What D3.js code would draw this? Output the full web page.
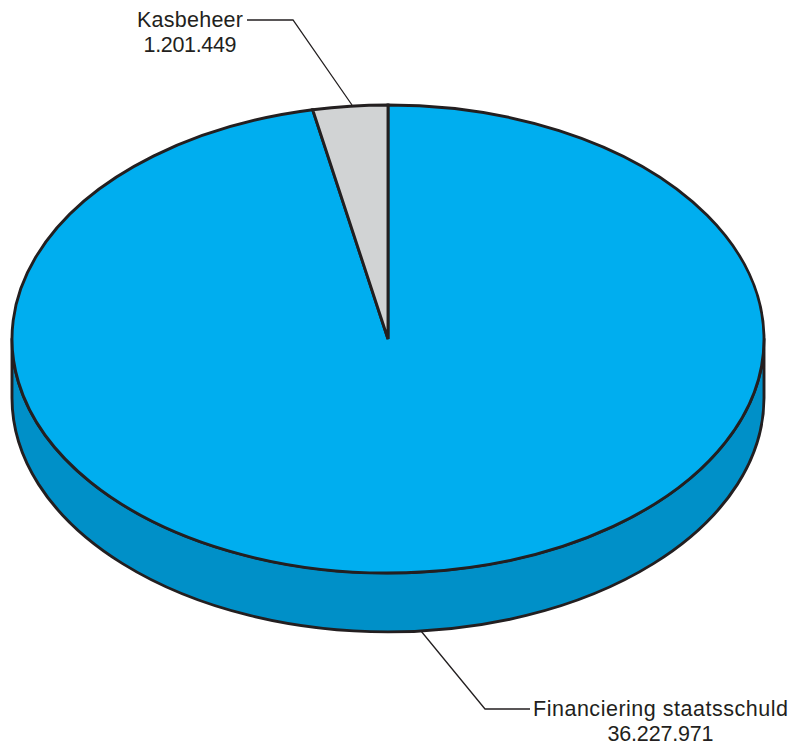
<!DOCTYPE html>
<html>
<head>
<meta charset="utf-8">
<script src="https://cdn.jsdelivr.net/npm/d3@7"></script>
<style>
    html, body { margin: 0; padding: 0; background: #fff; }
    svg { display: block; }
    text { font-family: "Liberation Sans", Arial, sans-serif; font-size: 21.5px; fill: #231f20; }
</style>
</head>
<body>
<div class="visholder"></div>
<script>
const categories = ["Financiering staatsschuld", "Kasbeheer"];
const values = [36227971, 1201449];
const valueLabels = ["36.227.971", "1.201.449"];
const colors = ["#00aeef", "#d1d3d4"];
const sideColor = "#0090c8";
const strokeColor = "#231f20";

let width = 795,
    height = 749;

// pie is an ellipse seen from above, plus a rim below it
const cx = 388,
    cy = 339,
    rx = 376,
    ry = 234,
    depth = 59;

var svg = d3.select(".visholder")
    .append("svg")
    .attr("width", width)
    .attr("height", height);

// rim
svg.append("path")
    .attr("d", `M${cx - rx},${cy} L${cx - rx},${cy + depth} A${rx},${ry} 0 0 0 ${cx + rx},${cy + depth} L${cx + rx},${cy} A${rx},${ry} 0 0 1 ${cx - rx},${cy} Z`)
    .attr("fill", sideColor)
    .attr("stroke", strokeColor)
    .attr("stroke-width", 2.9)
    .attr("stroke-linejoin", "round");

// big slice clockwise from the small one, small slice ends at 12 o'clock
var pie = d3.pie().sort(null).startAngle(0).endAngle(2 * Math.PI);
var arc = d3.arc().innerRadius(0).outerRadius(rx);

svg.append("g")
    .attr("transform", `translate(${cx},${cy}) scale(1,${ry / rx})`)
    .selectAll("path")
    .data(pie(values))
    .enter()
    .append("path")
    .attr("d", arc)
    .attr("fill", function (d, i) { return colors[i]; })
    .attr("stroke", strokeColor)
    .attr("stroke-width", 2.9)
    .attr("stroke-linejoin", "miter")
    .attr("vector-effect", "non-scaling-stroke");

// leader lines
const leaders = [
    { points: [[421, 631], [485, 709], [530, 709]] },
    { points: [[247, 20], [293, 20], [352, 105]] }
];
var line = d3.line();
svg.selectAll(".leader")
    .data(leaders)
    .enter()
    .append("path")
    .attr("class", "leader")
    .attr("d", function (d) { return line(d.points); })
    .attr("fill", "none")
    .attr("stroke", strokeColor)
    .attr("stroke-width", 1.3);

// labels, stretched a bit since the original face runs wider
const labelPos = [
    { x: 660.5, y1: 716, y2: 741, w1: 255, w2: 106 },
    { x: 190, y1: 27, y2: 51.5, w1: 106, w2: 93 }
];
var labels = svg.selectAll(".label")
    .data(categories)
    .enter()
    .append("g")
    .attr("class", "label");
labels.append("text")
    .attr("x", function (d, i) { return labelPos[i].x; })
    .attr("y", function (d, i) { return labelPos[i].y1; })
    .attr("textLength", function (d, i) { return labelPos[i].w1; })
    .style("text-anchor", "middle")
    .text(function (d) { return d; });
labels.append("text")
    .attr("x", function (d, i) { return labelPos[i].x; })
    .attr("y", function (d, i) { return labelPos[i].y2; })
    .attr("textLength", function (d, i) { return labelPos[i].w2; })
    .style("text-anchor", "middle")
    .text(function (d, i) { return valueLabels[i]; });
</script>
</body>
</html>
